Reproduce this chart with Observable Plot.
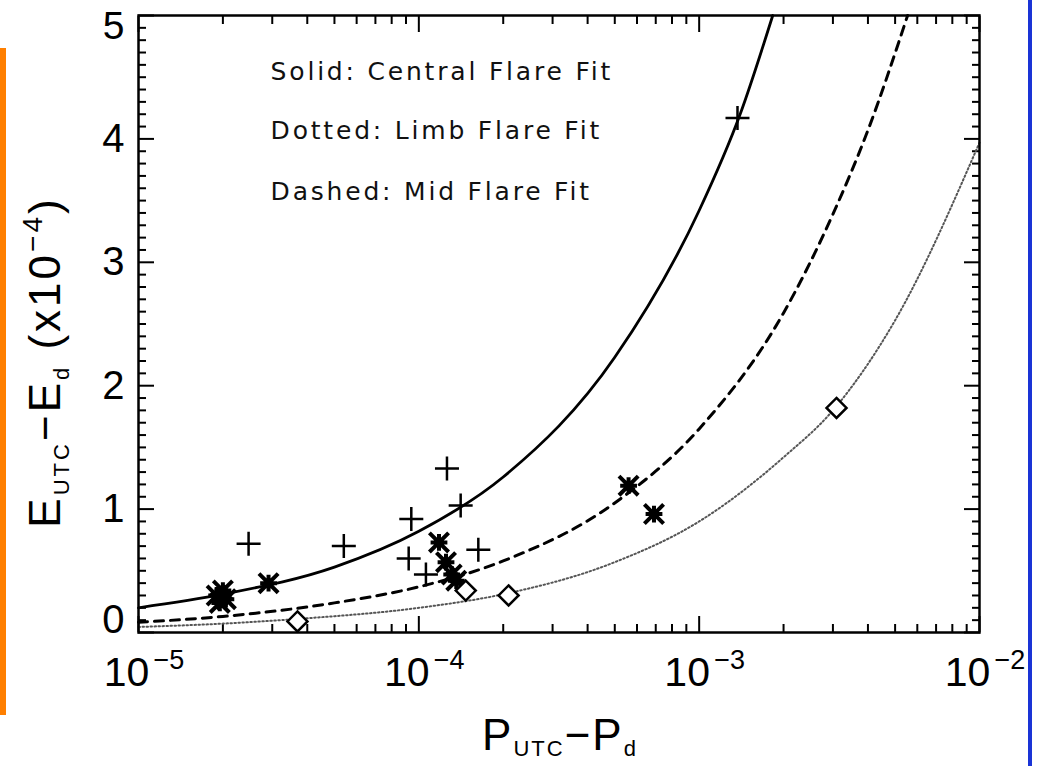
<!DOCTYPE html>
<html><head><meta charset="utf-8">
<script src="https://cdn.jsdelivr.net/npm/d3@7"></script>
<script src="https://cdn.jsdelivr.net/npm/@observablehq/plot@0.6"></script>
<style>
body{margin:0;background:#fff;}
#wrap{position:relative;width:1043px;height:766px;overflow:hidden;background:#fff}
#wrap svg{position:absolute;left:0;top:0}
.orange{position:absolute;left:0;top:48px;width:6px;height:667px;background:#ff7f00}
.blue{position:absolute;left:1028px;top:0;width:4px;height:766px;background:#1a34d6}
</style></head><body><div id="wrap"><div class="orange"></div><div class="blue"></div></div>
<script>
// ---- data ----
// Fit curves (x = P_UTC - P_d, y = E_UTC - E_d in units of 1e-4)
const solidX  = [1e-5, 2e-5, 5e-5, 1e-4, 2e-4, 5e-4, 1e-3, 1.4e-3, 1.83e-3];
const solidY  = [0.20, 0.31, 0.53, 0.82, 1.26, 2.23, 3.42, 4.20, 5.00];
const dashedX = [1e-5, 2e-5, 5e-5, 1e-4, 2e-4, 5e-4, 1e-3, 2e-3, 3e-3, 4e-3, 5.54e-3];
const dashedY = [0.083, 0.13, 0.24, 0.37, 0.58, 1.05, 1.65, 2.59, 3.39, 4.07, 5.00];
const dottedX = [1e-5, 2e-5, 3.7e-5, 1e-4, 2e-4, 5e-4, 1e-3, 2e-3, 3e-3, 5e-3, 1e-2];
const dottedY = [0.045, 0.072, 0.11, 0.20, 0.31, 0.57, 0.90, 1.42, 1.80, 2.53, 3.97];
// Central flares (+)
const plusX = [2.47e-5, 5.4e-5, 9.4e-5, 9.2e-5, 1.26e-4, 1.41e-4, 1.63e-4, 1.06e-4, 1.37e-3];
const plusY = [0.72, 0.70, 0.92, 0.60, 1.33, 1.03, 0.67, 0.47, 4.17];
// Mid flares (asterisk)
const starX = [1.9e-5, 2.0e-5, 2.05e-5, 1.95e-5, 2.91e-5, 1.18e-4, 1.25e-4, 1.31e-4, 1.36e-4, 5.6e-4, 6.9e-4];
const starY = [0.30, 0.34, 0.27, 0.24, 0.40, 0.73, 0.57, 0.47, 0.42, 1.19, 0.96];
// Limb flares (diamond)
const diamX = [3.69e-5, 1.47e-4, 2.09e-4, 3.09e-3];
const diamY = [0.09, 0.34, 0.30, 1.82];
// Axis ticks and labels
const xMajor = [1e-5, 1e-4, 1e-3, 1e-2];
const xExpo  = ["\u22125", "\u22124", "\u22123", "\u22122"];
const yMajor = [0, 1, 2, 3, 4, 5];
const notes  = ["Solid: Central Flare Fit", "Dotted: Limb Flare Fit", "Dashed: Mid Flare Fit"];
const notesY = [4.54, 4.06, 3.57];

// ---- tables built from the arrays ----
const zip = (xs, ys) => xs.map((x, i) => ({x, y: ys[i]}));
const solid = zip(solidX, solidY), dashed = zip(dashedX, dashedY), dotted = zip(dottedX, dottedY);
const pluses = zip(plusX, plusY), stars = zip(starX, starY), diams = zip(diamX, diamY);
const xMinor = [];
for (let e = -5; e < -2; e++) for (let m = 2; m <= 9; m++) xMinor.push(m * Math.pow(10, e));
const yMinor = d3.range(0, 50).map(i => i / 10).filter(v => !Number.isInteger(v));
const xLab = xMajor.map((v, i) => ({x: v, e: xExpo[i]}));
const noteRows = notes.map((t, i) => ({t, y: notesY[i]}));

const plusSym = {draw(c, size) { const r = Math.sqrt(size / Math.PI);
  c.moveTo(-r, 0); c.lineTo(r, 0); c.moveTo(0, -r); c.lineTo(0, r); }};
const starSym = {draw(c, size) { const r = Math.sqrt(size / Math.PI), q = r * 0.8;
  c.moveTo(-r * 0.7, 0); c.lineTo(r * 0.7, 0); c.moveTo(0, -r * 0.7); c.lineTo(0, r * 0.7);
  c.moveTo(-q, -q); c.lineTo(q, q); c.moveTo(-q, q); c.lineTo(q, -q); }};
const diamSym = {draw(c, size) { const r = Math.sqrt(size / Math.PI);
  c.moveTo(0, -r); c.lineTo(r, 0); c.lineTo(0, r); c.lineTo(-r, 0); c.closePath(); }};

const FONT = "Liberation Sans, Arial, Helvetica, sans-serif";
const tickW = 2;

const chart = Plot.plot({
  width: 1043, height: 766,
  marginLeft: 138, marginRight: 64, marginTop: 15, marginBottom: 134,
  style: {fontFamily: FONT, background: "transparent"},
  x: {type: "log", domain: [1e-5, 1e-2]},
  y: {domain: [0, 5]},
  marks: [
    // axes: ticks pointing inward on all four sides
    Plot.axisX({anchor: "bottom", ticks: xMajor, tickSize: -16, strokeWidth: tickW, tickFormat: () => "", label: null}),
    Plot.axisX({anchor: "bottom", ticks: xMinor, tickSize: -8, strokeWidth: tickW, tickFormat: () => "", label: null}),
    Plot.axisX({anchor: "top", ticks: xMajor, tickSize: -16, strokeWidth: tickW, tickFormat: () => "", label: null}),
    Plot.axisX({anchor: "top", ticks: xMinor, tickSize: -8, strokeWidth: tickW, tickFormat: () => "", label: null}),
    Plot.axisY({anchor: "left", ticks: yMajor, tickSize: -16, strokeWidth: tickW, tickFormat: () => "", label: null}),
    Plot.axisY({anchor: "left", ticks: yMinor, tickSize: -8, strokeWidth: tickW, tickFormat: () => "", label: null}),
    Plot.axisY({anchor: "right", ticks: yMajor, tickSize: -16, strokeWidth: tickW, tickFormat: () => "", label: null}),
    Plot.axisY({anchor: "right", ticks: yMinor, tickSize: -8, strokeWidth: tickW, tickFormat: () => "", label: null}),
    // tick labels
    Plot.text(xLab, {x: "x", frameAnchor: "bottom", dy: 53, dx: -12, text: () => "10", fontSize: 41, fill: "black"}),
    Plot.text(xLab, {x: "x", frameAnchor: "bottom", dy: 36, dx: 15, text: "e", textAnchor: "start", fontSize: 27, fill: "black"}),
    Plot.text(yMajor.filter(v => v > 0 && v < 5), {y: d => d, frameAnchor: "left", dx: -14, text: d => String(d), textAnchor: "end", fontSize: 40, fill: "black"}),
    Plot.text(yMajor.filter(v => v === 5), {y: d => d, frameAnchor: "left", dx: -14, dy: 11, text: d => String(d), textAnchor: "end", fontSize: 39, fill: "black"}),
    Plot.text(yMajor.filter(v => v === 0), {y: d => d, frameAnchor: "left", dx: -14, dy: -12, text: d => String(d), textAnchor: "end", fontSize: 40, fill: "black"}),
    // fit curves
    Plot.line(dotted, {x: "x", y: "y", curve: "monotone-x", stroke: "#555", strokeWidth: 2, strokeDasharray: "1.5,2.5"}),
    Plot.line(dashed, {x: "x", y: "y", curve: "monotone-x", stroke: "black", strokeWidth: 3, strokeDasharray: "9,7"}),
    Plot.line(solid, {x: "x", y: "y", curve: "monotone-x", stroke: "black", strokeWidth: 2.8}),
    // data points
    Plot.dot(pluses, {x: "x", y: "y", symbol: plusSym, r: 12, stroke: "black", strokeWidth: 2.5, fill: "none"}),
    Plot.dot(stars, {x: "x", y: "y", symbol: starSym, r: 12, stroke: "black", strokeWidth: 4, fill: "none"}),
    Plot.dot(diams, {x: "x", y: "y", symbol: diamSym, r: 10, stroke: "black", strokeWidth: 2.5, fill: "white"}),
    // annotations
    Plot.text(noteRows, {x: () => 2.96e-5, y: "y", text: "t", textAnchor: "start", fontSize: 25, fontFamily: "DejaVu Sans, sans-serif", fill: "#111"}),
    Plot.frame({stroke: "black", strokeWidth: 2.5})
  ]
});
document.getElementById("wrap").appendChild(chart);

const svg = d3.select(chart);
// widen the annotation lettering like the original plotting font
svg.selectAll("text").filter(function() { return notes.includes(this.textContent); })
  .style("letter-spacing", "2.8px");

// axis titles with sub/superscripts
const yt = svg.append("text")
  .attr("transform", "translate(60,362) rotate(-90)")
  .attr("text-anchor", "middle").attr("font-family", FONT).attr("font-size", 44)
  .attr("fill", "black").style("letter-spacing", "3px");
yt.append("tspan").text("E");
yt.append("tspan").attr("font-size", 22).attr("dy", 9).text("UTC");
yt.append("tspan").attr("dy", -9).text("\u2212E");
yt.append("tspan").attr("font-size", 22).attr("dy", 9).text("d");
yt.append("tspan").attr("dy", -9).text(" (x10");
yt.append("tspan").attr("font-size", 28).attr("dy", -18).text("\u22124");
yt.append("tspan").attr("dy", 18).text(")");

const xt = svg.append("text")
  .attr("x", 560).attr("y", 750)
  .attr("text-anchor", "middle").attr("font-family", FONT).attr("font-size", 44)
  .attr("fill", "black").style("letter-spacing", "2px");
xt.append("tspan").text("P");
xt.append("tspan").attr("font-size", 22).attr("dy", 6).text("UTC");
xt.append("tspan").attr("dy", -6).text("\u2212P");
xt.append("tspan").attr("font-size", 22).attr("dy", 6).text("d");
</script>
</body></html>
